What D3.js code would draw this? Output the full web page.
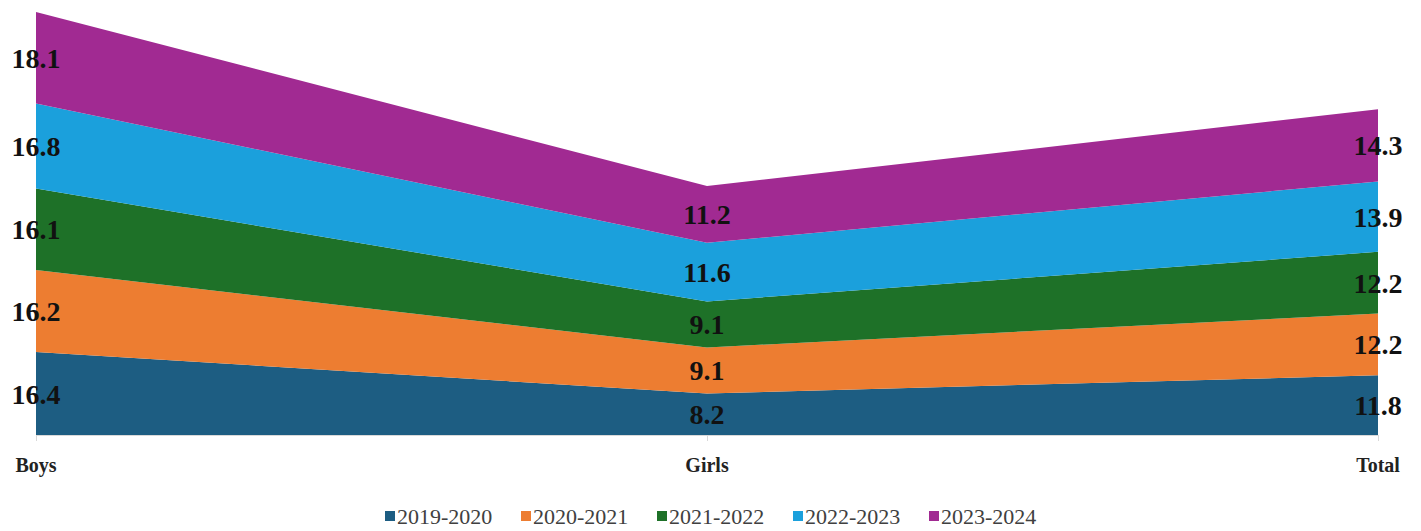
<!DOCTYPE html>
<html>
<head>
<meta charset="utf-8">
<script src="https://cdn.jsdelivr.net/npm/d3@7"></script>
<style>
  body { margin: 0; background: #fff; }
</style>
</head>
<body>
<script>
"use strict";

var categories = ["Boys", "Girls", "Total"];
var seriesNames = ["2019-2020", "2020-2021", "2021-2022", "2022-2023", "2023-2024"];
var v2019 = [16.4, 8.2, 11.8];
var v2020 = [16.2, 9.1, 12.2];
var v2021 = [16.1, 9.1, 12.2];
var v2022 = [16.8, 11.6, 13.9];
var v2023 = [18.1, 11.2, 14.3];
var colors = ["#1d5d82", "#ed7d31", "#1e7128", "#1ba0dc", "#a12a92"];

function init() {
  var w = 1421, h = 531;
  var seriesValues = [v2019, v2020, v2021, v2022, v2023];

  // table for d3.stack
  var table = categories.map(function (c, i) {
    var row = { cat: c };
    seriesNames.forEach(function (s, j) { row[s] = seriesValues[j][i]; });
    return row;
  });

  var stacked = d3.stack().keys(seriesNames)(table);

  var x = d3.scalePoint()
    .domain(categories)
    .range([36, 1378]);

  var y = d3.scaleLinear()
    .domain([0, 83.6])
    .range([435, 12]);

  var svg = d3.select("body")
    .append("svg")
    .attr("width", w)
    .attr("height", h);

  var area = d3.area()
    .x(function (d) { return x(d.data.cat); })
    .y0(function (d) { return y(d[0]); })
    .y1(function (d) { return y(d[1]); });

  svg.selectAll("path.layer")
    .data(stacked)
    .enter()
    .append("path")
    .attr("class", "layer")
    .attr("d", area)
    .attr("fill", function (d, i) { return colors[i]; });

  // axis line + ticks
  svg.append("line")
    .attr("x1", x("Boys")).attr("x2", x("Total"))
    .attr("y1", 435.5).attr("y2", 435.5)
    .attr("stroke", "#d9d9d9").attr("stroke-width", 1);

  svg.selectAll("line.tick")
    .data(categories)
    .enter()
    .append("line")
    .attr("class", "tick")
    .attr("x1", function (d) { return x(d) + 0.5; })
    .attr("x2", function (d) { return x(d) + 0.5; })
    .attr("y1", 435).attr("y2", 441)
    .attr("stroke", "#d9d9d9");

  // category labels
  svg.selectAll("text.cat")
    .data(categories)
    .enter()
    .append("text")
    .attr("class", "cat")
    .attr("x", function (d) { return x(d); })
    .attr("y", 472)
    .attr("text-anchor", "middle")
    .attr("font-family", "Liberation Serif, Times New Roman, serif")
    .attr("font-weight", "bold")
    .attr("font-size", "20px")
    .attr("fill", "#222")
    .text(function (d) { return d; });

  // value labels
  stacked.forEach(function (layer) {
    svg.selectAll(null)
      .data(layer)
      .enter()
      .append("text")
      .attr("x", function (d) { return x(d.data.cat); })
      .attr("y", function (d) { return (y(d[0]) + y(d[1])) / 2 + 10; })
      .attr("text-anchor", "middle")
      .attr("font-family", "Liberation Serif, Times New Roman, serif")
      .attr("font-weight", "bold")
      .attr("font-size", "28px")
      .attr("fill", "#111")
      .text(function (d) { return (d[1] - d[0]).toFixed(1); });
  });

  // legend
  var legend = svg.selectAll("g.legend")
    .data(seriesNames)
    .enter()
    .append("g")
    .attr("class", "legend")
    .attr("transform", function (d, i) { return "translate(" + (385 + i * 136) + ",517)"; });

  legend.append("rect")
    .attr("x", 0).attr("y", -6)
    .attr("width", 10).attr("height", 10)
    .attr("fill", function (d, i) { return colors[i]; });

  legend.append("text")
    .attr("x", 12)
    .attr("y", 7)
    .attr("font-family", "Liberation Serif, Times New Roman, serif")
    .attr("font-size", "22px")
    .attr("fill", "#404040")
    .text(function (d) { return d; });
}

window.onload = init;
</script>
</body>
</html>
